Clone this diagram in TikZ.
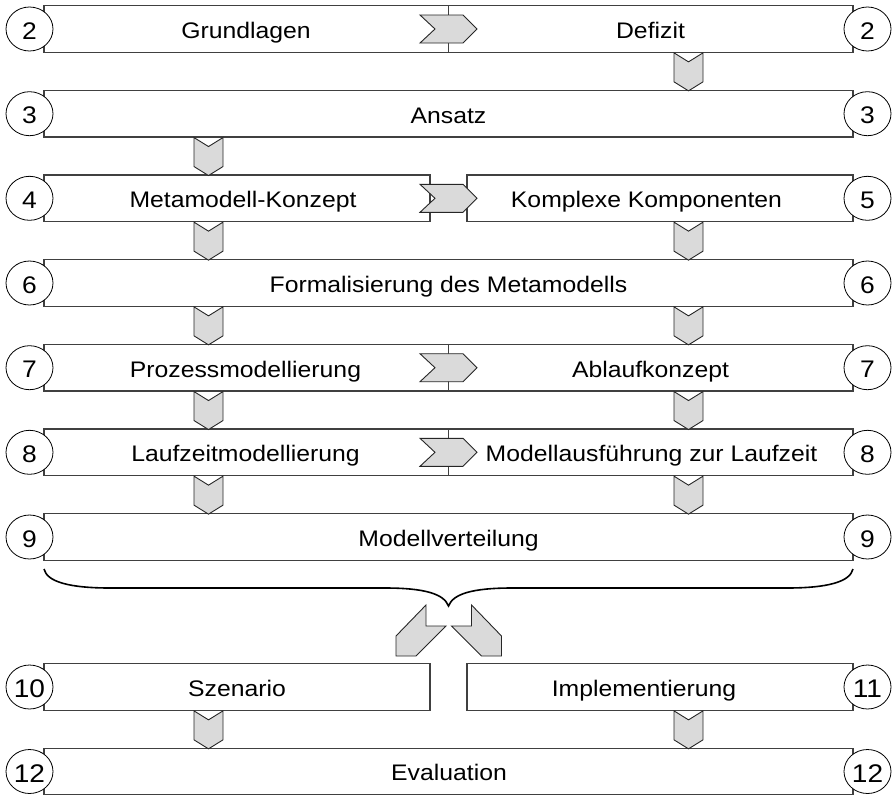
\documentclass[tikz,border=0pt]{standalone}
\usepackage{fontspec}
\setmainfont{Liberation Sans}[FakeStretch=1.1]
\usetikzlibrary{shapes.geometric,calc}
\definecolor{boxline}{RGB}{64,64,64}
\definecolor{chevfill}{RGB}{218,218,218}
\begin{document}
\begin{tikzpicture}[x=1pt,y=-1pt,
  box/.style={draw=boxline, line width=1.1pt, fill=white, rectangle, inner sep=0pt, minimum height=46.6pt},
  num/.style={draw=black, line width=0.8pt, fill=white, ellipse, inner sep=0pt, minimum width=47pt, minimum height=44pt},
  dig/.style={anchor=base, inner sep=0pt, font=\fontsize{24}{26}\selectfont},
  digw/.style={anchor=base, inner sep=0pt, font=\fontsize{25.5}{27}\selectfont},
  lbl/.style={anchor=base, inner sep=0pt, font=\fontsize{22.5}{25}\selectfont},
  chev/.style={draw=black!85, fill=chevfill, line width=0.9pt, line join=miter},
  brace/.style={draw=black, line width=1.6pt},
  hchev/.pic={\filldraw[chev] (-28.5,-14) -- (14.5,-14) -- (28.5,0) -- (14.5,14) -- (-28.5,14) -- (-13.5,0) -- cycle;},
  vchev/.pic={\filldraw[chev] (-14.5,0) -- (0,9) -- (14.5,0) -- (14.5,29) -- (0,38) -- (-14.5,29) -- cycle;}
]
\useasboundingbox (0,0) rectangle (896,795);
\coordinate (xl) at (208.5,0);
\coordinate (xr) at (688.5,0);
\coordinate (cl) at (29.5,0);
\coordinate (cr) at (867.5,0);

% boxes
\node[box, minimum width=809pt] (b1) at (448.5,29) {};
\node[box, minimum width=809pt] (b2) at (448.5,113.7) {};
\node[box, minimum width=386pt] (b3l) at (237,198.3) {};
\node[box, minimum width=386pt] (b3r) at (660,198.3) {};
\node[box, minimum width=809pt] (b4) at (448.5,283) {};
\node[box, minimum width=809pt] (b5) at (448.5,367.7) {};
\node[box, minimum width=809pt] (b6) at (448.5,452.3) {};
\node[box, minimum width=809pt] (b7) at (448.5,537) {};
\node[box, minimum width=386pt] (b10) at (237,687) {};
\node[box, minimum width=386pt] (b11) at (660,687) {};
\node[box, minimum width=809pt] (b12) at (448.5,771.5) {};

% dividers
\draw[boxline, line width=1.1pt] (b1.north) -- (b1.south);
\draw[boxline, line width=1.1pt] (b5.north) -- (b5.south);
\draw[boxline, line width=1.1pt] (b6.north) -- (b6.south);

% horizontal chevrons
\pic at (b1.center) {hchev};
\pic at ($(b3l.east)!0.5!(b3r.west)$) {hchev};
\pic at (b5.center) {hchev};
\pic at (b6.center) {hchev};

% vertical chevrons
\pic at (b1.south -| xr) {vchev};
\pic at (b2.south -| xl) {vchev};
\pic at (b3l.south -| xl) {vchev};
\pic at (b3r.south -| xr) {vchev};
\pic at (b4.south -| xl) {vchev};
\pic at (b4.south -| xr) {vchev};
\pic at (b5.south -| xl) {vchev};
\pic at (b5.south -| xr) {vchev};
\pic at (b6.south -| xl) {vchev};
\pic at (b6.south -| xr) {vchev};
\pic at (b10.south -| xl) {vchev};
\pic at (b11.south -| xr) {vchev};

% brace
\draw[brace] (44,569) .. controls (47,582) and (70,588) .. (110,588) -- (385,588) .. controls (425,588) and (444,594) .. (448.5,606) .. controls (453,594) and (472,588) .. (512,588) -- (787,588) .. controls (827,588) and (850,582) .. (853,569);

% diagonal arrows
\filldraw[chev] (426,605) -- (426,626) -- (446,626) -- (416,656) -- (396,656) -- (396,636) -- cycle;
\filldraw[chev] (471.5,605) -- (471.5,626) -- (451.5,626) -- (481.5,656) -- (501.5,656) -- (501.5,636) -- cycle;

% circles
\foreach \r/\a/\b in {b1/2/2, b2/3/3, b4/6/6, b5/7/7, b6/8/8, b7/9/9}{
  \node[num] (\r l) at (\r.west -| cl) {};
  \node[num] (\r r) at (\r.east -| cr) {};
  \node[dig] at ([yshift=-10pt]\r l.center) {\a};
  \node[dig] at ([yshift=-10pt]\r r.center) {\b};
}
\node[num] (c3l) at (b3l.west -| cl) {};
\node[num] (c3r) at (b3r.east -| cr) {};
\node[dig] at ([yshift=-10pt]c3l.center) {4};
\node[dig] at ([yshift=-10pt]c3r.center) {5};
\node[num] (c10) at (b10.west -| cl) {};
\node[num] (c11) at (b11.east -| cr) {};
\node[num] (c12l) at (b12.west -| cl) {};
\node[num] (c12r) at (b12.east -| cr) {};
\node[digw] at ([yshift=-10.5pt]c10.center) {10};
\node[digw] at ([yshift=-10.5pt]c11.center) {11};
\node[digw] at ([yshift=-10.5pt]c12l.center) {12};
\node[digw] at ([yshift=-10.5pt]c12r.center) {12};

% labels
\node[lbl] (t1) at (246,38.3) {Grundlagen};
\node[lbl] (t2) at (650.5,38.3) {Defizit};
\node[lbl] (t3) at (448.5,123) {Ansatz};
\node[lbl] (t4) at (243,207.6) {Metamodell-Konzept};
\node[lbl] (t5) at (646.5,207.6) {Komplexe Komponenten};
\node[lbl] (t6) at (448.5,292.3) {Formalisierung des Metamodells};
\node[lbl] (t7) at (245.5,377) {Prozessmodellierung};
\node[lbl] (t8) at (650.5,377) {Ablaufkonzept};
\node[lbl] (t9) at (245.5,461.6) {Laufzeitmodellierung};
\node[lbl] (t10) at (651.5,461.6) {Modellausführung zur Laufzeit};
\node[lbl] (t11) at (448.5,546.3) {Modellverteilung};
\node[lbl] (t12) at (237,696.3) {Szenario};
\node[lbl] (t13) at (644,696.3) {Implementierung};
\node[lbl] (t14) at (449,780.8) {Evaluation};
\end{tikzpicture}
\end{document}
